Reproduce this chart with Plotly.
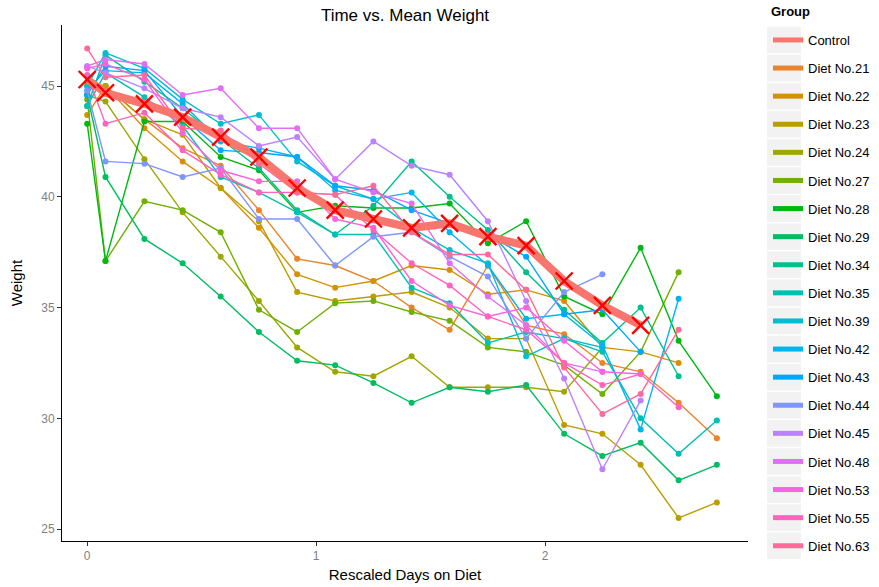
import math
import plotly.graph_objects as go

# ---------------- data ----------------
days = [0, 0.08, 0.25, 0.417, 0.583, 0.75, 0.917, 1.083, 1.25, 1.417,
        1.583, 1.75, 1.917, 2.083, 2.25, 2.417, 2.583, 2.75]

control = [45.3, 44.7, 44.2, 43.6, 42.7, 41.8, 40.4, 39.4, 39.0, 38.6,
           38.8, 38.2, 37.8, 36.2, 35.1, 34.2]

diet21 = [45.2, 45.0, 43.5, 42.2, 41.4, 39.4, 37.2, 36.9, 36.2, 35.0, 34.0, 36.9, 34.2, 33.8, 32.5, 32.1, 30.7, 29.1]
diet22 = [43.7, 45.0, 43.1, 41.6, 40.4, 38.6, 36.5, 35.9, 36.2, 36.9, 36.7, 35.6, 35.8, 35.3, 33.2, 33.0, 32.5]
diet23 = [45.0, 45.0, 43.5, 42.8, 40.4, 38.9, 35.7, 35.3, 35.5, 35.7, 35.0, 33.6, 33.6, 29.7, 29.3, 27.9, 25.5, 26.2]
diet24 = [44.6, 44.3, 41.7, 39.3, 37.3, 35.3, 33.2, 32.1, 31.9, 32.8, 31.4, 31.4, 31.4, 31.2, 33.2]
diet27 = [44.4, 37.1, 39.8, 39.4, 38.4, 34.9, 33.9, 35.2, 35.3, 34.8, 34.4, 33.2, 33.0, 32.4, 31.1, 33.0, 36.6]
diet28 = [43.3, 37.1, 43.4, 43.4, 41.8, 41.2, 39.3, 39.6, 39.5, 39.5, 39.7, 37.9, 38.9, 35.5, 34.7, 37.7, 33.5, 31.0]
diet29 = [44.6, 40.9, 38.1, 37.0, 35.5, 33.9, 32.6, 32.4, 31.6, 30.7, 31.4, 31.2, 31.5, 29.3, 28.3, 28.9, 27.2, 27.9]
diet34 = [44.1, 46.4, 45.2, 44.0, 42.6, 41.3, 39.4, 38.3, 39.6, 41.6, 40.0, 38.5, 36.6, 34.9, 33.4, 35.0, 31.9]
diet35 = [44.1, 45.6, 44.5, 43.2, 40.9, 40.2, 39.3, 38.3, 38.3, 35.9, 35.2, 33.4, 33.9, 33.6, 33.0, 30.0, 28.4, 29.9]
diet39 = [45.0, 46.5, 45.8, 44.4, 43.3, 43.7, 41.6, 40.5, 39.9, 38.6, 37.6, 37.0, 32.8, 33.6, 33.2]
diet42 = [44.8, 45.7, 45.6, 44.2, 42.5, 42.2, 41.8, 40.3, 39.9, 40.2, 38.4, 36.9, 34.5, 34.7, 33.3, 29.5, 35.4]
diet43 = [44.6, 45.9, 45.7, 43.6, 42.1, 42.0, 41.8, 40.5, 40.3, 39.4, 38.8, 38.3, 37.3, 34.7, 34.9, 33.0]
diet44 = [44.8, 41.6, 41.5, 40.9, 41.3, 39.0, 39.0, 36.9, 38.2, 38.4, 37.3, 36.4, 33.6, 35.7, 36.5]
diet45 = [45.9, 45.6, 44.9, 44.0, 43.6, 42.3, 42.7, 40.8, 42.5, 41.4, 41.0, 38.9, 35.3, 31.8, 27.7, 30.8]
diet48 = [45.9, 46.2, 46.0, 44.6, 44.9, 43.1, 43.1, 40.8, 40.2, 39.7, 37.0, 35.5, 34.2, 32.5, 32.1]
diet53 = [45.8, 46.0, 45.3, 42.9, 41.2, 40.7, 40.7, 39.0, 38.6, 36.2, 35.1, 34.6, 35.0, 33.5, 32.1, 32.0]
diet55 = [45.5, 43.3, 43.8, 42.1, 41.0, 40.2, 40.2, 40.1, 38.5, 37.0, 36.0, 34.6, 34.0, 32.5, 31.5, 32.0, 30.5]
diet63 = [46.7, 45.4, 45.5, 43.1, 43.0, 41.5, 40.2, 40.1, 40.5, 38.4, 37.4, 37.4, 35.8, 32.3, 30.2, 31.1, 34.0]

group_names = ["Control", "Diet No.21", "Diet No.22", "Diet No.23", "Diet No.24",
               "Diet No.27", "Diet No.28", "Diet No.29", "Diet No.34", "Diet No.35",
               "Diet No.39", "Diet No.42", "Diet No.43", "Diet No.44", "Diet No.45",
               "Diet No.48", "Diet No.53", "Diet No.55", "Diet No.63"]
diet_series = [diet21, diet22, diet23, diet24, diet27, diet28, diet29, diet34, diet35,
               diet39, diet42, diet43, diet44, diet45, diet48, diet53, diet55, diet63]

x_ticks = [0, 1, 2]
y_ticks = [25, 30, 35, 40, 45]


# ---------------- colours (ggplot hue palette) ----------------
def hcl_hex(h, c=100.0, l=65.0):
    Xn, Yn, Zn = 95.047, 100.0, 108.883
    hr = math.radians(h)
    u = c * math.cos(hr)
    v = c * math.sin(hr)
    Y = Yn * ((l + 16) / 116) ** 3 if l > 8 else Yn * l / 903.3
    den = Xn + 15 * Yn + 3 * Zn
    un, vn = 4 * Xn / den, 9 * Yn / den
    up = u / (13 * l) + un
    vp = v / (13 * l) + vn
    X = 9.0 * Y * up / (4 * vp)
    Z = -X / 3 - 5 * Y + 3 * Y / vp
    X, Y, Z = X / 100, Y / 100, Z / 100
    r = 3.240479 * X - 1.537150 * Y - 0.498535 * Z
    g = -0.969256 * X + 1.875992 * Y + 0.041556 * Z
    b = 0.055648 * X - 0.204043 * Y + 1.057311 * Z

    def gam(t):
        t = 12.92 * t if t <= 0.0031308 else 1.055 * t ** (1 / 2.4) - 0.055
        return max(0, min(255, round(t * 255)))
    return "#%02X%02X%02X" % (gam(r), gam(g), gam(b))


n = len(group_names)
hues = [15 + 360 * i / n for i in range(n)]
colors = [hcl_hex(hh) for hh in hues]

FONT = "Liberation Sans, Arial, Helvetica, sans-serif"

# layout geometry (pixels)
W, H = 879, 587
ML, MR, MT, MB = 62, 131, 25, 46
PW, PH = W - ML - MR, H - MT - MB


def px_to_paper_x(px):
    return (px - ML) / PW


def px_to_paper_y(py):
    return (H - MB - py) / PH


fig = go.Figure()

# diet lines
for name, vals, col in zip(group_names[1:], diet_series, colors[1:]):
    fig.add_trace(go.Scatter(
        x=days[:len(vals)], y=vals, mode="lines+markers",
        line=dict(color=col, width=1.4),
        marker=dict(color=col, size=6),
        showlegend=False, hoverinfo="skip"))

# control (thick line)
fig.add_trace(go.Scatter(
    x=days[:len(control)], y=control, mode="lines",
    line=dict(color=colors[0], width=8),
    showlegend=False, hoverinfo="skip"))

# mean markers
fig.add_trace(go.Scatter(
    x=days[:len(control)], y=control, mode="markers",
    marker=dict(symbol="x-thin", size=17, color="#FF0000",
                line=dict(color="#FF0000", width=2.4)),
    showlegend=False, hoverinfo="skip"))

# legend entries
for i, (name, col) in enumerate(zip(group_names, colors)):
    fig.add_trace(go.Scatter(
        x=[None], y=[None], mode="lines", name=name,
        line=dict(color=col, width=5),
        legendgroup="g%d" % i, showlegend=True))

# grey legend key backgrounds
shapes = []
for i in range(n):
    cy = 40 + 28.1 * i
    shapes.append(dict(type="rect", xref="paper", yref="paper", layer="below",
                       x0=px_to_paper_x(767), x1=px_to_paper_x(801),
                       y0=px_to_paper_y(cy + 13.3), y1=px_to_paper_y(cy - 13.3),
                       fillcolor="#F2F2F2", line=dict(width=0)))

fig.update_layout(
    width=W, height=H,
    margin=dict(l=ML, r=MR, t=MT, b=MB, autoexpand=False),
    paper_bgcolor="white", plot_bgcolor="white",
    font=dict(family=FONT, color="black"),
    shapes=shapes,
    annotations=[dict(text="<b>Group</b>", xref="paper", yref="paper",
                      x=px_to_paper_x(769), y=px_to_paper_y(12),
                      xanchor="left", yanchor="middle", showarrow=False,
                      font=dict(size=13, family=FONT, color="black"))],
    title=dict(text="Time vs. Mean Weight", x=0.5, xref="paper",
               y=1 - 15 / H, yanchor="middle", xanchor="center",
               font=dict(size=17, family=FONT, color="black")),
    xaxis=dict(range=[-0.11, 2.886], tickvals=x_ticks,
               ticktext=[str(t) for t in x_ticks],
               showgrid=False, zeroline=False, showline=True,
               linecolor="black", linewidth=1,
               ticks="outside", ticklen=4, tickcolor="#333",
               tickfont=dict(size=12, color="#7F7F7F", family=FONT),
               title=dict(text="Rescaled Days on Diet", standoff=7,
                          font=dict(size=15, color="black", family=FONT))),
    yaxis=dict(range=[24.46, 47.76], tickvals=y_ticks,
               ticktext=[str(t) for t in y_ticks],
               showgrid=False, zeroline=False, showline=True,
               linecolor="black", linewidth=1,
               ticks="outside", ticklen=4, tickcolor="#333",
               tickfont=dict(size=12, color="#7F7F7F", family=FONT),
               title=dict(text="Weight", standoff=14,
                          font=dict(size=15, color="black", family=FONT))),
    legend=dict(x=px_to_paper_x(768), xanchor="left",
                y=px_to_paper_y(25), yanchor="top",
                bgcolor="rgba(0,0,0,0)",
                traceorder="grouped", tracegroupgap=8.2,
                font=dict(size=13, family=FONT, color="black"),
                itemwidth=30, maxheight=700),
)

fig.write_html("out.html", config={"displayModeBar": False},
               post_script="document.body.style.margin='0';document.body.style.overflow='hidden';")
